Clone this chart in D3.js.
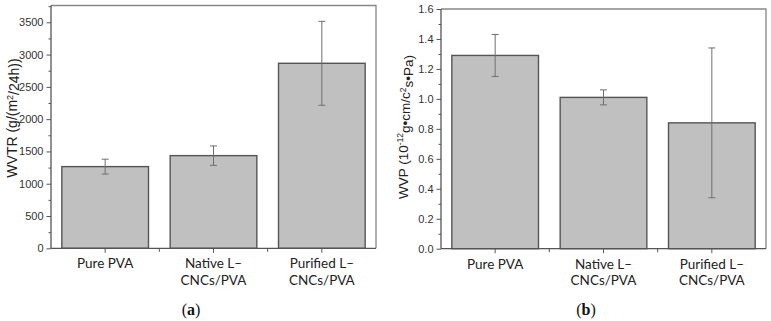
<!DOCTYPE html>
<html>
<head>
<meta charset="utf-8">
<script src="https://cdn.jsdelivr.net/npm/d3@7"></script>
<style>
  body { margin: 0; background: #fff; }
  svg { display: block; }
  .tick text { font-family: "Liberation Sans", Arial, sans-serif; font-size: 11px; fill: #333; }
</style>
</head>
<body>
<svg id="chart" width="771" height="321"></svg>
<script>
// sample groups shared by both panels
const categories = [["Pure PVA"], ["Native L\u2013", "CNCs/PVA"], ["Purified L\u2013", "CNCs/PVA"]];
const catKeys = ["pure", "native", "purified"];

// water vapour transmission rate, g/(m2/24h)
const wvtrMean = [1265, 1435, 2865];
const wvtrErr = [115, 150, 650];
const wvtrTicks = [0, 500, 1000, 1500, 2000, 2500, 3000, 3500];

// water vapour permeability, 1e-12 g.cm/cm2.s.Pa
const wvpMean = [1.29, 1.01, 0.84];
const wvpErr = [0.14, 0.05, 0.50];
const wvpTicks = [0, 0.2, 0.4, 0.6, 0.8, 1.0, 1.2, 1.4, 1.6];

const svg = d3.select("#chart");

function panel(opts) {
  const { left, right, top, bottom, yMax, mean, err, ticks, minorStep, fmt, letter, captionX } = opts;
  const g = svg.append("g");

  const x = d3.scaleBand().domain(catKeys).range([left, right]).paddingInner(0.2).paddingOuter(0.1);
  const y = d3.scaleLinear().domain([0, yMax]).range([bottom, top]);

  // bars
  g.selectAll("rect.bar").data(mean).join("rect")
    .attr("class", "bar")
    .attr("x", (d, i) => x(catKeys[i]))
    .attr("width", x.bandwidth())
    .attr("y", d => y(d))
    .attr("height", d => y(0) - y(d))
    .attr("fill", "#c0c0c0")
    .attr("stroke", "#555")
    .attr("stroke-width", 1.4);

  // error bars
  const eb = g.selectAll("g.err").data(mean).join("g").attr("class", "err")
    .attr("stroke", "#6f6f6f").attr("stroke-width", 1);
  const cx = i => x(catKeys[i]) + x.bandwidth() / 2;
  eb.append("line")
    .attr("x1", (d, i) => cx(i)).attr("x2", (d, i) => cx(i))
    .attr("y1", (d, i) => y(d + err[i])).attr("y2", (d, i) => y(d - err[i]));
  [1, -1].forEach(s => {
    eb.append("line")
      .attr("x1", (d, i) => cx(i) - 3.5).attr("x2", (d, i) => cx(i) + 3.5)
      .attr("y1", (d, i) => y(d + s * err[i])).attr("y2", (d, i) => y(d + s * err[i]));
  });

  // frame top and right
  g.append("path")
    .attr("d", `M${left},${top}H${right}V${bottom}`)
    .attr("fill", "none").attr("stroke", "#888").attr("stroke-width", 1.3);

  // y axis with minor ticks
  const minor = d3.range(0, yMax + 1e-9, minorStep).filter(v => !ticks.some(t => Math.abs(t - v) < 1e-9));
  g.append("g").attr("transform", `translate(${left},0)`)
    .call(d3.axisLeft(y).tickValues(minor).tickSize(2.5).tickFormat(""))
    .call(a => a.select(".domain").remove())
    .selectAll("line").attr("stroke", "#555");
  const ya = g.append("g").attr("transform", `translate(${left},0)`)
    .call(d3.axisLeft(y).tickValues(ticks).tickSize(4.5).tickPadding(3).tickFormat(fmt).tickSizeOuter(0));
  ya.select(".domain").attr("d", `M0,${top}V${bottom}`).attr("stroke", "#555").attr("stroke-width", 1.3);
  ya.selectAll("line").attr("stroke", "#555");

  // x axis: ticks at centres plus minor ticks between groups
  const xa = g.append("g").attr("transform", `translate(0,${bottom})`)
    .call(d3.axisBottom(x).tickSize(4.5).tickFormat("").tickSizeOuter(0));
  xa.select(".domain").attr("d", `M${left},0H${right}`).attr("stroke", "#555").attr("stroke-width", 1.3);
  xa.selectAll("line").attr("stroke", "#555");
  const step = x.step();
  g.append("g").selectAll("line").data(catKeys.slice(1)).join("line")
    .attr("x1", d => x(d) - step * x.paddingInner() / 2)
    .attr("x2", d => x(d) - step * x.paddingInner() / 2)
    .attr("y1", bottom).attr("y2", bottom + 3.5)
    .attr("stroke", "#555");

  // category labels
  g.append("g").selectAll("text").data(categories).join("text")
    .attr("x", (d, i) => cx(i))
    .attr("y", bottom + 20)
    .attr("text-anchor", "middle")
    .style("font-family", "Lato, 'Open Sans', sans-serif")
    .style("font-size", "13.5px")
    .attr("fill", "#222")
    .selectAll("tspan").data(d => d).join("tspan")
      .attr("x", function () { return d3.select(this.parentNode).attr("x"); })
      .attr("dy", (d, j) => j === 0 ? 0 : 16.5)
      .text(d => d);

  // y title
  g.append("g")
    .attr("transform", `translate(${opts.titleX},${opts.titleY}) rotate(-90)`)
    .append("text")
    .attr("text-anchor", "middle")
    .attr("dy", "0.35em")
    .style("font-family", "'Liberation Sans', Arial, sans-serif")
    .style("font-size", opts.titleSize)
    .attr("fill", "#222")
    .call(opts.title);

  // caption
  const cap = g.append("text")
    .attr("x", captionX).attr("y", 315)
    .attr("text-anchor", "middle")
    .style("font-family", "'Liberation Serif', 'DejaVu Serif', serif")
    .style("font-size", "16px")
    .attr("fill", "#111");
  cap.append("tspan").text("(");
  cap.append("tspan").attr("font-weight", "bold").text(letter);
  cap.append("tspan").text(")");
}

panel({
  left: 51, right: 376, top: 5.5, bottom: 248.3, yMax: 3760,
  mean: wvtrMean, err: wvtrErr, ticks: wvtrTicks, minorStep: 250,
  fmt: d3.format("d"), letter: "a", captionX: 191,
  titleX: 12, titleY: 118, titleSize: "14px",
  title: t => {
    t.append("tspan").text("WVTR (g/(m");
    t.append("tspan").attr("dy", "-0.45em").style("font-size", "9px").text("2");
    t.append("tspan").attr("dy", "0.45em").text("/24h))");
  }
});

panel({
  left: 441, right: 766, top: 9, bottom: 248.7, yMax: 1.6,
  mean: wvpMean, err: wvpErr, ticks: wvpTicks, minorStep: 0.1,
  fmt: d3.format(".1f"), letter: "b", captionX: 586,
  titleX: 403, titleY: 127, titleSize: "13.5px",
  title: t => {
    t.append("tspan").text("WVP (10");
    t.append("tspan").attr("dy", "-0.5em").style("font-size", "8.5px").text("-12");
    t.append("tspan").attr("dy", "0.5em").text("g\u2022cm/c");
    t.append("tspan").attr("dy", "-0.5em").style("font-size", "8.5px").text("2");
    t.append("tspan").attr("dy", "0.5em").text("s\u2022Pa)");
  }
});
</script>
</body>
</html>
